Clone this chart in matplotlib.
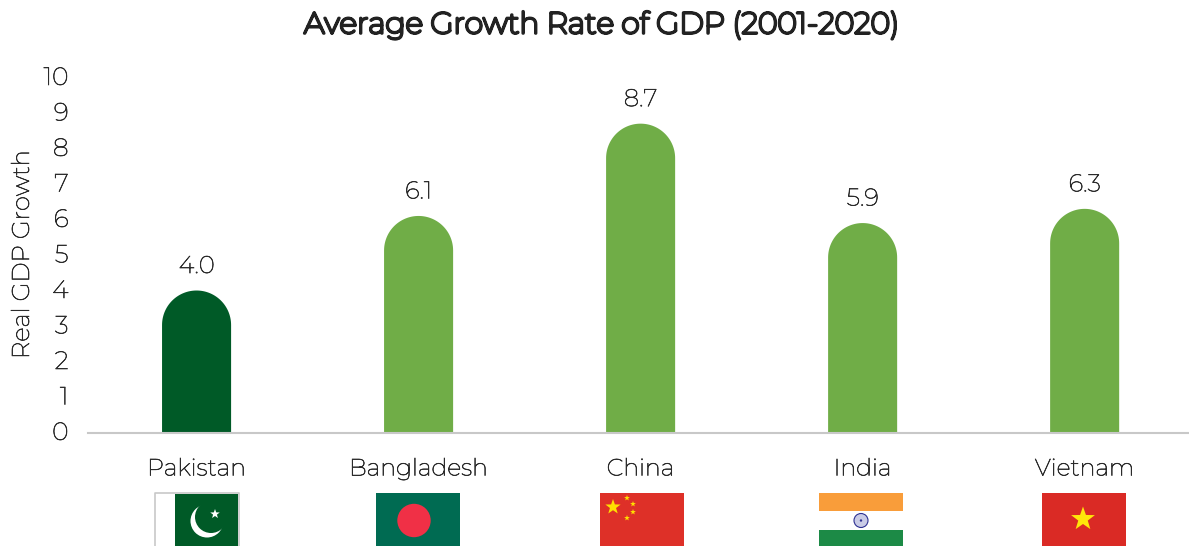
import matplotlib
matplotlib.use('Agg')
import matplotlib.pyplot as plt
import matplotlib.patheffects as pe
from matplotlib.patches import Circle, Polygon, Rectangle
from matplotlib.transforms import ScaledTranslation
import numpy as np

countries = ['Pakistan', 'Bangladesh', 'China', 'India', 'Vietnam']
growth = [4.0, 6.1, 8.7, 5.9, 6.3]
bar_colors = ['#005a27', '#70ad47', '#70ad47', '#70ad47', '#70ad47']
y_ticks = [0, 1, 2, 3, 4, 5, 6, 7, 8, 9, 10]

W, H = 1189, 546
TEXT = '#2b2b2b'
plt.rcParams['font.family'] = ['Montserrat', 'Lato', 'DejaVu Sans']

fig = plt.figure(figsize=(W / 100, H / 100), dpi=100)
ax = fig.add_axes([88 / W, 1 - 432.5 / H, (W - 88) / W, 355 / H])
ax.set_xlim(-0.489, 4.47)
ax.set_ylim(0, 10)

# bars with a round cap on top
bar_w = 0.311
cap_h = 34.5 / 35.5
labels = []
for i, (v, c) in enumerate(zip(growth, bar_colors)):
    t = np.linspace(0, np.pi, 60)
    xs = i + bar_w / 2 * np.cos(t)
    ys = v - cap_h + cap_h * np.sin(t)
    pts = [(i + bar_w / 2, 0)] + list(zip(xs, ys)) + [(i - bar_w / 2, 0)]
    ax.add_patch(Polygon(pts, closed=True, fc=c, ec='none'))
    labels.append(ax.text(i, v + 0.35, f'{v:.1f}', ha='center', va='bottom', fontsize=17.5, color=TEXT))

for s in ['top', 'right', 'left']:
    ax.spines[s].set_visible(False)
ax.spines['bottom'].set_color('#c8c8c8')
ax.spines['bottom'].set_linewidth(1.5)
ax.set_xticks(range(len(countries)))
ax.set_xticklabels(countries)
ax.set_yticks(y_ticks)
ax.tick_params(axis='x', length=0, pad=18, labelsize=17, labelcolor=TEXT)
ax.tick_params(axis='y', length=0, pad=14, labelsize=18, labelcolor=TEXT)
ax.set_ylabel('Real GDP Growth', fontsize=17.5, color=TEXT)
ax.yaxis.set_label_coords(-54 / (W - 88), 0.5)

# nudge the y tick labels up a little
lift = ScaledTranslation(0, 1.5 / 100, fig.dpi_scale_trans)
for tx in ax.get_yticklabels():
    tx.set_transform(tx.get_transform() + lift)

# the font only comes in a thin cut, so thicken the strokes
thicken = [pe.withStroke(linewidth=0.45, foreground=TEXT)]
for tx in labels + ax.get_xticklabels() + ax.get_yticklabels() + [ax.yaxis.label]:
    tx.set_path_effects(thicken)

fig.text(602 / W, 1 - 25 / H, 'Average Growth Rate of GDP (2001-2020)', ha='center', va='center',
         fontsize=21.4, color='#222222',
         path_effects=[pe.withStroke(linewidth=2.0, foreground='#222222')])

# flags go on an overlay in pixel units
fl = fig.add_axes([0, 0, 1, 1], facecolor='none')
fl.set_xlim(0, W)
fl.set_ylim(H, 0)
fl.axis('off')


def star(cx, cy, r, color):
    a = -np.pi / 2 + np.arange(10) * np.pi / 5
    rad = np.where(np.arange(10) % 2 == 0, r, r * 0.4)
    fl.add_patch(Polygon(np.c_[cx + rad * np.cos(a), cy + rad * np.sin(a)], fc=color, ec='none'))


# Pakistan
fl.plot([155, 155, 238.5, 238.5], [546, 493, 493, 546], color='#c8c8c8', lw=1.2)
fl.add_patch(Rectangle((175, 493.5), 63, 53, fc='#005a27', ec='none'))
fl.add_patch(Circle((207, 521), 16.5, fc='white', ec='none'))
fl.add_patch(Circle((211, 517), 16, fc='#005a27', ec='none'))
star(215, 514, 5, 'white')

# Bangladesh
fl.add_patch(Rectangle((376, 493), 84, 53, fc='#006b52', ec='none'))
fl.add_patch(Circle((414, 520.5), 16.7, fc='#f03046', ec='none'))

# China
fl.add_patch(Rectangle((600, 493), 84, 53, fc='#de3028', ec='none'))
star(613, 507, 8, '#ffe000')
for x, y in [(627, 498), (633, 504), (633, 512), (627, 518)]:
    star(x, y, 3, '#ffe000')

# India
fl.add_patch(Rectangle((819, 493), 84, 18, fc='#f99d3a', ec='none'))
fl.add_patch(Rectangle((819, 530), 84, 16, fc='#1c8a46', ec='none'))
fl.add_patch(Circle((861, 520.5), 7, fc='#c9cbe6', ec='#2e3192', lw=0.8))
fl.add_patch(Circle((861, 520.5), 1.2, fc='#2e3192', ec='none'))

# Vietnam
fl.add_patch(Rectangle((1042, 493), 84, 53, fc='#da2a25', ec='none'))
star(1083, 519, 12.5, '#ffe60a')

fig.savefig('out.png', dpi=100, facecolor='white')
